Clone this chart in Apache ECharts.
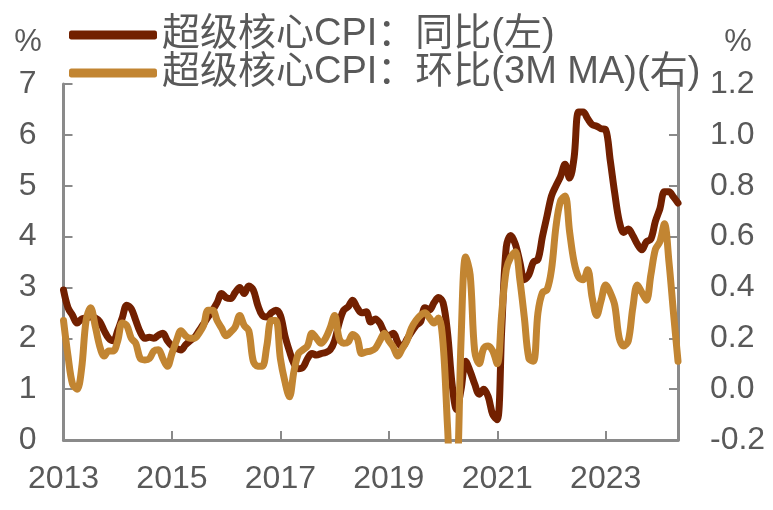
<!DOCTYPE html>
<html><head><meta charset="utf-8">
<script src="https://cdn.jsdelivr.net/npm/echarts@6/dist/echarts.min.js"></script>
<style>html,body{margin:0;padding:0;background:#fff}#c{width:773px;height:510px}</style>
</head><body><div id="c"></div>
<script>
// Monthly data, Jan 2013 .. May 2024
const startYear = 2013;
const seriesNames = ['超级核心CPI：同比(左)', '超级核心CPI：环比(3M MA)(右)'];
const yoy = [
  2.95, 2.6, 2.45, 2.3, 2.38, 2.4, 2.42, 2.4, 2.33, 2.15, 2.0, 1.95,
  2.15, 2.4, 2.65, 2.58, 2.35, 2.12, 2.0, 2.02, 2.0, 2.06, 2.1, 1.95,
  1.85, 1.8, 1.77, 1.87, 1.95, 2.02, 2.15, 2.28, 2.42, 2.55, 2.7, 2.88,
  2.8, 2.78, 2.9, 3.0, 2.88, 3.03, 2.95, 2.65, 2.45, 2.42, 2.5, 2.55,
  2.45, 2.05, 1.75, 1.5, 1.4, 1.43, 1.6, 1.7, 1.67, 1.7, 1.72, 1.77,
  1.95, 2.3, 2.55, 2.62, 2.75, 2.6, 2.5, 2.52, 2.32, 2.38, 2.3, 2.12,
  2.05, 2.1, 1.92, 1.83, 1.98, 2.12, 2.25, 2.32, 2.6, 2.56, 2.7, 2.8,
  2.7, 2.1, 1.1, 0.6, 1.0, 1.55, 1.35, 1.1, 0.9, 1.0, 0.85, 0.5,
  0.4, 2.2, 3.8, 4.02, 3.85, 3.5, 3.15, 3.25, 3.5, 3.55, 4.0, 4.4,
  4.8, 5.0, 5.18, 5.42, 5.15, 5.55, 6.45, 6.45, 6.32, 6.2, 6.17, 6.12,
  6.1, 5.5, 4.85, 4.3, 4.08, 4.15, 4.02, 3.85, 3.74, 3.9, 3.95, 4.3,
  4.55, 4.88, 4.88, 4.78, 4.66
];
const mom3m = [
  0.27, 0.13, 0.02, 0.0, 0.08, 0.27, 0.32, 0.25, 0.17, 0.13, 0.15, 0.15,
  0.19, 0.26, 0.25, 0.2, 0.18, 0.12, 0.115, 0.12, 0.15, 0.155, 0.12, 0.09,
  0.14, 0.19, 0.23, 0.21, 0.2, 0.2, 0.22, 0.25, 0.31, 0.31, 0.27, 0.24,
  0.21, 0.225, 0.245, 0.29, 0.25, 0.23, 0.11, 0.09, 0.09, 0.17, 0.27, 0.27,
  0.12, 0.03, -0.03, 0.07, 0.14, 0.155, 0.17, 0.22, 0.2, 0.18, 0.2, 0.24,
  0.29, 0.2, 0.18, 0.185, 0.215, 0.2, 0.14, 0.147, 0.15, 0.16, 0.19, 0.22,
  0.19, 0.165, 0.13, 0.16, 0.19, 0.24, 0.27, 0.29, 0.3, 0.28, 0.26, 0.28,
  0.18, -0.15, -0.45, -0.4, 0.2, 0.52, 0.45, 0.15, 0.1, 0.16, 0.17, 0.15,
  0.1, 0.3, 0.47, 0.52, 0.54, 0.43, 0.28, 0.12, 0.11, 0.3, 0.38, 0.39,
  0.47, 0.64, 0.74, 0.76, 0.62, 0.5, 0.44, 0.43, 0.47, 0.36, 0.29, 0.35,
  0.41, 0.38, 0.33, 0.2, 0.17, 0.19, 0.32, 0.41, 0.38, 0.35, 0.45, 0.55,
  0.58, 0.65, 0.5, 0.3, 0.11
];
const leftAxis = { min: 0, max: 7, interval: 1 };
const rightAxis = { min: -0.2, max: 1.2, interval: 0.2 };
const labelEvery = 24; // tick labels: 2013, 2015, ... 2023

const months = yoy.map((_, i) => (startYear + Math.floor(i / 12)) + '-' + String(i % 12 + 1).padStart(2, '0'));

const FONT = "'Liberation Sans', Arial, 'Noto Sans CJK SC', sans-serif";
const TXT = '#595959';
const AX = '#8a8a8a';
const TICKFS = 32;

const chart = echarts.init(document.getElementById('c'), null, { renderer: 'canvas' });
chart.setOption({
  animation: false,
  backgroundColor: '#fff',
  textStyle: { fontFamily: FONT },
  grid: { left: 63.5, right: 95, top: 84, bottom: 70, containLabel: false, outerBoundsMode: 'none' },
  legend: {
    orient: 'vertical', left: 64, top: 11, itemGap: 0, padding: 5,
    itemWidth: 88, itemHeight: 9, icon: 'roundRect',
    textStyle: { fontSize: 38, color: TXT, fontFamily: FONT, lineHeight: 35 },
    data: seriesNames
  },
  graphic: [
    { type: 'text', style: { text: '%', x: 28, y: 42, align: 'center', verticalAlign: 'middle', fontSize: 31, fill: TXT, fontFamily: FONT } },
    { type: 'text', style: { text: '%', x: 738, y: 42, align: 'center', verticalAlign: 'middle', fontSize: 31, fill: TXT, fontFamily: FONT } }
  ],
  xAxis: {
    type: 'category', data: months, boundaryGap: false,
    axisLine: { lineStyle: { color: AX, width: 3 } },
    axisTick: { inside: true, length: 9, interval: (i) => i % labelEvery === 0, lineStyle: { color: AX, width: 2 } },
    axisLabel: { interval: (i) => i % labelEvery === 0, formatter: (v) => v.slice(0, 4), fontSize: TICKFS, color: TXT, margin: 23, fontFamily: FONT },
    splitLine: { show: false }
  },
  yAxis: [
    {
      type: 'value', min: leftAxis.min, max: leftAxis.max, interval: leftAxis.interval,
      axisLine: { show: true, lineStyle: { color: AX, width: 3 } },
      axisTick: { show: true, inside: true, length: 9, lineStyle: { color: AX, width: 2 } },
      axisLabel: { fontSize: TICKFS, color: TXT, margin: 27, fontFamily: FONT },
      splitLine: { show: false }
    },
    {
      type: 'value', position: 'right', min: rightAxis.min, max: rightAxis.max, interval: rightAxis.interval,
      axisLine: { show: true, lineStyle: { color: AX, width: 3 } },
      axisTick: { show: true, inside: true, length: 9, lineStyle: { color: AX, width: 2 } },
      axisLabel: { fontSize: TICKFS, color: TXT, margin: 32, fontFamily: FONT, formatter: (v) => v.toFixed(1) },
      splitLine: { show: false }
    }
  ],
  series: [
    {
      name: seriesNames[0], type: 'line', data: yoy, yAxisIndex: 0,
      showSymbol: false, smooth: 0.35, clip: true,
      lineStyle: { color: '#722000', width: 7, cap: 'round', join: 'round' },
      itemStyle: { color: '#722000' }
    },
    {
      name: seriesNames[1], type: 'line', data: mom3m, yAxisIndex: 1,
      showSymbol: false, smooth: 0.35, clip: true,
      lineStyle: { color: '#C28532', width: 7, cap: 'round', join: 'round' },
      itemStyle: { color: '#C28532' }
    }
  ]
});
</script></body></html>
